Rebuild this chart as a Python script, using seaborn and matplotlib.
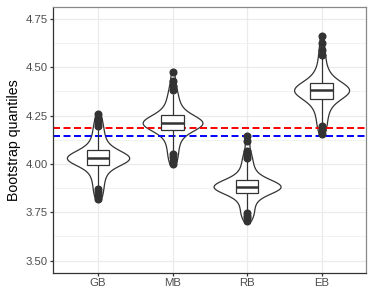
import numpy as np
import pandas as pd
import matplotlib
matplotlib.use("Agg")
import matplotlib.pyplot as plt
import seaborn as sns

methods = ["GB", "MB", "RB", "EB"]

gb_values = [3.817, 3.838, 3.855, 3.871, 3.887, 3.902, 3.916, 3.929, 3.941, 3.952, 3.962, 3.971, 3.979, 3.986, 3.992,
             3.997, 4.001, 4.005, 4.009, 4.012, 4.015, 4.018, 4.020, 4.022, 4.024, 4.025, 4.026, 4.027, 4.028, 4.029,
             4.031, 4.032, 4.034, 4.036, 4.038, 4.040, 4.042, 4.045, 4.048, 4.051, 4.054, 4.058, 4.062, 4.066, 4.070,
             4.075, 4.081, 4.088, 4.096, 4.105, 4.115, 4.126, 4.138, 4.151, 4.165, 4.180, 4.196, 4.213, 4.234, 4.260]
mb_values = [3.999, 4.017, 4.034, 4.050, 4.066, 4.081, 4.095, 4.108, 4.120, 4.131, 4.141, 4.150, 4.158, 4.165, 4.171,
             4.176, 4.180, 4.184, 4.188, 4.191, 4.194, 4.197, 4.199, 4.201, 4.203, 4.205, 4.207, 4.209, 4.210, 4.211,
             4.213, 4.214, 4.216, 4.218, 4.220, 4.222, 4.224, 4.227, 4.230, 4.233, 4.236, 4.240, 4.244, 4.248, 4.252,
             4.257, 4.263, 4.270, 4.278, 4.287, 4.297, 4.308, 4.320, 4.333, 4.347, 4.362, 4.380, 4.402, 4.430, 4.474]
rb_values = [3.707, 3.721, 3.733, 3.745, 3.757, 3.769, 3.781, 3.793, 3.804, 3.814, 3.823, 3.831, 3.838, 3.844, 3.849,
             3.853, 3.856, 3.859, 3.862, 3.865, 3.868, 3.870, 3.872, 3.874, 3.876, 3.878, 3.879, 3.880, 3.881, 3.882,
             3.884, 3.885, 3.886, 3.888, 3.890, 3.892, 3.894, 3.896, 3.899, 3.902, 3.905, 3.908, 3.911, 3.914, 3.917,
             3.922, 3.928, 3.935, 3.943, 3.952, 3.962, 3.973, 3.986, 4.000, 4.015, 4.030, 4.048, 4.068, 4.117, 4.143]
eb_values = [4.155, 4.176, 4.194, 4.210, 4.226, 4.241, 4.255, 4.268, 4.280, 4.291, 4.301, 4.310, 4.318, 4.325, 4.331,
             4.337, 4.341, 4.345, 4.349, 4.353, 4.357, 4.360, 4.363, 4.366, 4.369, 4.371, 4.373, 4.375, 4.377, 4.379,
             4.381, 4.383, 4.385, 4.387, 4.389, 4.391, 4.394, 4.397, 4.400, 4.403, 4.406, 4.409, 4.412, 4.415, 4.419,
             4.424, 4.430, 4.437, 4.445, 4.454, 4.464, 4.475, 4.487, 4.500, 4.520, 4.545, 4.562, 4.590, 4.625, 4.662]

red_line = 4.185
blue_line = 4.145

y_ticks = [3.50, 3.75, 4.00, 4.25, 4.50, 4.75]
y_tick_labels = ["3.50", "3.75", "4.00", "4.25", "4.50", "4.75"]
y_label = "Bootstrap quantiles"

df = pd.DataFrame({
    "method": (["GB"] * len(gb_values) + ["MB"] * len(mb_values)
               + ["RB"] * len(rb_values) + ["EB"] * len(eb_values)),
    "value": gb_values + mb_values + rb_values + eb_values,
})

sns.set_theme(style="white")
plt.rcParams["font.family"] = ["Liberation Sans", "DejaVu Sans"]

fig = plt.figure(figsize=(3.74, 2.99), dpi=100)
ax = fig.add_axes([0.1426, 0.088, 0.8368, 0.8896])

dark = "#333333"
ax.axhline(red_line, color="red", lw=1.4, dashes=(3.6, 1.8), zorder=2.5)
ax.axhline(blue_line, color="blue", lw=1.4, dashes=(3.6, 1.8), zorder=2.5)

sns.violinplot(data=df, x="method", y="value", order=methods, inner=None, cut=0,
               width=0.9, color="white", linecolor=dark, linewidth=0.9,
               density_norm="area", bw_adjust=0.75, ax=ax)
for c in ax.collections:
    c.set_zorder(2)

sns.boxplot(data=df, x="method", y="value", order=methods, width=0.3,
            color="white", linecolor=dark, linewidth=0.9, showcaps=False,
            fliersize=4.8,
            flierprops=dict(marker="o", markerfacecolor=dark, markeredgecolor=dark),
            medianprops=dict(linewidth=1.8, color=dark),
            ax=ax)
for p in ax.patches:
    p.set_zorder(3)
for l in ax.lines:
    if l.get_color() not in ("red", "blue"):
        l.set_zorder(3.5)

ax.set_xlim(-0.6, 3.6)
ax.set_ylim(3.4375, 4.8125)
ax.set_yticks(y_ticks)
ax.set_yticklabels(y_tick_labels)
ax.set_yticks([3.625, 3.875, 4.125, 4.375, 4.625], minor=True)
ax.grid(True, which="major", color="#EBEBEB", lw=0.9, zorder=0)
ax.grid(True, which="minor", axis="y", color="#EBEBEB", lw=0.45, zorder=0)
ax.set_axisbelow(True)

ax.set_xlabel("")
ax.set_ylabel(y_label, fontsize=10.2, color="black", labelpad=3)
ax.tick_params(axis="both", which="major", labelsize=8.2, labelcolor="#4D4D4D",
               length=2.5, width=0.9, color=dark, pad=1.5, left=True, bottom=True)
ax.tick_params(axis="y", which="minor", length=0)

for side in ["left", "bottom"]:
    ax.spines[side].set_color(dark)
    ax.spines[side].set_linewidth(0.9)
for side in ["top", "right"]:
    ax.spines[side].set_color("#888888")
    ax.spines[side].set_linewidth(0.9)
ax.set_facecolor("white")

fig.savefig("out.png", dpi=100)
